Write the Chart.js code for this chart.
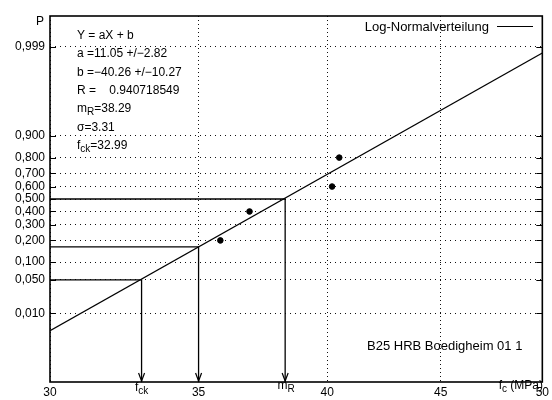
<!DOCTYPE html>
<html>
<head>
<meta charset="utf-8">
<script src="https://cdn.jsdelivr.net/npm/chart.js@4.4.0/dist/chart.umd.min.js"></script>
<style>
  html, body { margin:0; padding:0; background:#fff; }
  #wrap { width:552px; height:400px; }
</style>
</head>
<body>
<div id="wrap"><canvas id="chart" width="552" height="400"></canvas></div>
<script>
/* ---------------------------
   Data
   --------------------------- */
const xTicks = [30, 35, 40, 45, 50];
const probTicks = [0.01, 0.05, 0.1, 0.2, 0.3, 0.4, 0.5, 0.6, 0.7, 0.8, 0.9, 0.999];
const pRange = [0.0001, 0.9999];

// measured strengths and their plotting positions
const sampleFc = [35.8, 36.9, 40.2, 40.5];
const sampleP  = [0.2, 0.4, 0.6, 0.8];

// regression Y = aX + b, X = ln(fc)
const fitA = 11.05;
const fitB = -40.26;
const fitRange = [30, 50];

const mR = 38.29;
const fck = 32.99;
const fckP = 0.05;
const refFc = 35;

const infoLines = [
  ['Y = aX + b'],
  ['a =11.05 +/\u22122.82'],
  ['b =\u221240.26 +/\u221210.27'],
  ['R =    0.940718549'],
  ['m', 'R', '=38.29'],
  ['\u03c3=3.31'],
  ['f', 'ck', '=32.99']
];
const noteText = 'B25 HRB Boedigheim 01 1';
const legendText = 'Log-Normalverteilung';

/* ---------------------------
   Helpers
   --------------------------- */
// inverse normal CDF (Acklam)
function probit(p){
  const a=[-3.969683028665376e+01,2.209460984245205e+02,-2.759285104469687e+02,1.383577518672690e+02,-3.066479806614716e+01,2.506628277459239e+00];
  const b=[-5.447609879822406e+01,1.615858368580409e+02,-1.556989798598866e+02,6.680131188771972e+01,-1.328068155288572e+01];
  const c=[-7.784894002430293e-03,-3.223964580411365e-01,-2.400758277161838e+00,-2.549732539343734e+00,4.374664141464968e+00,2.938163982698783e+00];
  const d=[7.784695709041462e-03,3.224671290700398e-01,2.445134137142996e+00,3.754408661907416e+00];
  const pl = 0.02425;
  if (p < pl){
    const q = Math.sqrt(-2*Math.log(p));
    return (((((c[0]*q+c[1])*q+c[2])*q+c[3])*q+c[4])*q+c[5])/((((d[0]*q+d[1])*q+d[2])*q+d[3])*q+1);
  }
  if (p <= 1-pl){
    const q = p-0.5, r = q*q;
    return (((((a[0]*r+a[1])*r+a[2])*r+a[3])*r+a[4])*r+a[5])*q/(((((b[0]*r+b[1])*r+b[2])*r+b[3])*r+b[4])*r+1);
  }
  const q = Math.sqrt(-2*Math.log(1-p));
  return -(((((c[0]*q+c[1])*q+c[2])*q+c[3])*q+c[4])*q+c[5])/((((d[0]*q+d[1])*q+d[2])*q+d[3])*q+1);
}
const fitZ = fc => fitA*Math.log(fc) + fitB;
const zMin = probit(pRange[0]);
const zMax = probit(pRange[1]);

// horizontal line from left axis to the curve, then drop to the x axis
function guide(xc, z){
  return [{x:fitRange[0], y:z}, {x:xc, y:z}, {x:xc, y:zMin}];
}

const FONT = '"Liberation Sans", Arial, Helvetica, sans-serif';

/* ---------------------------
   Plugin: frame, inner ticks, arrows, texts
   --------------------------- */
const decor = {
  id: 'decor',
  afterDatasetsDraw(chart){
    const {ctx, chartArea:ca, scales:{x, y}} = chart;
    ctx.save();
    ctx.strokeStyle = '#000';

    // short solid ticks on inner side of left / right border
    ctx.lineWidth = 1;
    probTicks.forEach(p=>{
      const py = Math.round(y.getPixelForValue(probit(p))) + 0.5;
      ctx.beginPath();
      ctx.moveTo(ca.left, py); ctx.lineTo(ca.left+6, py);
      ctx.moveTo(ca.right-6, py); ctx.lineTo(ca.right, py);
      ctx.stroke();
    });

    // arrow heads at the foot of the guide lines
    ctx.lineWidth = 1.2;
    [fck, refFc, mR].forEach(v=>{
      const px = x.getPixelForValue(v);
      const pb = ca.bottom;
      ctx.beginPath();
      ctx.moveTo(px-3, pb-9); ctx.lineTo(px, pb-1); ctx.lineTo(px+3, pb-9);
      ctx.stroke();
    });

    // frame
    ctx.lineWidth = 1.6;
    ctx.strokeRect(ca.left, ca.top, ca.right-ca.left, ca.bottom-ca.top);

    ctx.fillStyle = '#000';
    ctx.textBaseline = 'alphabetic';

    const sub = (base, s, rest, px, py, size) => {
      ctx.font = size + 'px ' + FONT;
      ctx.fillText(base, px, py);
      let w = ctx.measureText(base).width;
      if (s){
        ctx.font = Math.round(size*0.8) + 'px ' + FONT;
        ctx.fillText(s, px+w, py+3);
        w += ctx.measureText(s).width;
        ctx.font = size + 'px ' + FONT;
      }
      if (rest){ ctx.fillText(rest, px+w, py); w += ctx.measureText(rest).width; }
      return w;
    };
    const subWidth = (base, s, rest, size) => {
      ctx.font = size + 'px ' + FONT;
      let w = ctx.measureText(base).width + (rest ? ctx.measureText(rest).width : 0);
      ctx.font = Math.round(size*0.8) + 'px ' + FONT;
      return w + (s ? ctx.measureText(s).width : 0);
    };

    // fit parameters
    ctx.textAlign = 'left';
    infoLines.forEach((ln, i)=>{
      sub(ln[0], ln[1], ln[2], 77, 39 + i*18.3, 12);
    });

    // axis title P
    ctx.font = '12px ' + FONT;
    ctx.fillText('P', 36, 25);

    // legend
    const ds = chart.data.datasets[0];
    ctx.font = '13px ' + FONT;
    ctx.textAlign = 'right';
    ctx.fillText(ds.label, 489, 31);
    ctx.lineWidth = 1.2;
    ctx.beginPath(); ctx.moveTo(497, 26.5); ctx.lineTo(533, 26.5); ctx.stroke();

    // sample note
    ctx.textAlign = 'left';
    ctx.font = '13px ' + FONT;
    ctx.fillText(noteText, 367, 350);

    // special x labels
    const fx = x.getPixelForValue(fck);
    sub('f', 'ck', '', fx - subWidth('f','ck','',12)/2, 391, 12);
    const mx = x.getPixelForValue(mR);
    sub('m', 'R', '', mx - subWidth('m','R','',12)/2 + 1, 389, 12);
    sub('f', 'c', ' (MPa)', 543 - subWidth('f','c',' (MPa)',12), 389, 12);

    ctx.restore();
  }
};

/* ---------------------------
   Chart
   --------------------------- */
const lineStyle = { borderColor:'#000', borderWidth:1.3, pointRadius:0, showLine:true, fill:false, tension:0 };

const ctx = document.getElementById('chart').getContext('2d');
const chart = new Chart(ctx, {
  type: 'scatter',
  data: {
    datasets: [
      Object.assign({ label: legendText, data: fitRange.map(v=>({x:v, y:fitZ(v)})) }, lineStyle),
      { label:'Messwerte', data: sampleFc.map((v,i)=>({x:v, y:probit(sampleP[i])})),
        pointRadius:2.8, pointBackgroundColor:'#000', pointBorderColor:'#000', showLine:false },
      Object.assign({ label:'fck', data: guide(fck, probit(fckP)) }, lineStyle),
      Object.assign({ label:'35', data: guide(refFc, fitZ(refFc)) }, lineStyle),
      Object.assign({ label:'mR', data: guide(mR, probit(0.5)) }, lineStyle)
    ]
  },
  options: {
    responsive:false,
    animation:false,
    layout: { padding: { top:16, right:5, left:0, bottom:0 } },
    plugins: { legend:{display:false}, tooltip:{enabled:false} },
    scales: {
      x: {
        type:'logarithmic', min:fitRange[0], max:fitRange[1],
        afterBuildTicks: s => { s.ticks = xTicks.map(v=>({value:v})); },
        afterFit: s => { s.height = 18; },
        ticks: { callback: v => String(v), color:'#000', font:{family:FONT, size:12}, padding:3, maxRotation:0, autoSkip:false },
        grid: { color:'#111', lineWidth:1, drawTicks:false },
        border: { display:false, dash:[1,3] }
      },
      y: {
        type:'linear', min:zMin, max:zMax,
        afterBuildTicks: s => { s.ticks = probTicks.map(p=>({value:probit(p)})); },
        afterFit: s => { s.width = 50; },
        ticks: { callback: (v, i) => probTicks[i].toFixed(3).replace('.', ','), color:'#000',
                 font:{family:FONT, size:12}, padding:5, autoSkip:false },
        grid: { color:'#111', lineWidth:1, drawTicks:false },
        border: { display:false, dash:[1,4] }
      }
    }
  },
  plugins: [decor]
});
</script>
</body>
</html>
